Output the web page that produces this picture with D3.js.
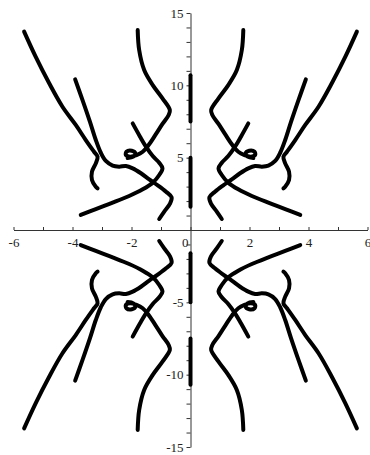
<!DOCTYPE html>
<html>
<head>
<meta charset="utf-8">
<script src="https://cdn.jsdelivr.net/npm/d3@7"></script>
<style>
  html, body { margin: 0; padding: 0; background: #fff; }
  svg { display: block; }
</style>
</head>
<body>
<svg id="chart" width="370" height="455"></svg>
<script>
// Branches of the implicit curve in the quadrant x > 0, y > 0 ([x, y] pairs).
// The curve is symmetric in both axes, so each branch is drawn in all four quadrants.
const outerBranch = [
  [5.64, 13.71], [5.25, 11.98], [4.79, 10.14], [4.34, 8.52], [3.89, 7.26],
  [3.55, 6.22], [3.27, 5.41], [3.15, 5.07], [3.21, 4.61], [3.34, 4.03],
  [3.34, 3.46], [3.21, 2.99], [3.15, 2.88]
];
const middleBranch = [
  [3.91, 10.41], [3.66, 8.98], [3.41, 7.49], [3.21, 6.22], [3.04, 5.34],
  [2.87, 4.77], [2.64, 4.45], [2.42, 4.38], [2.19, 4.42], [1.96, 4.26],
  [1.68, 3.92], [1.40, 3.50], [1.11, 3.09], [0.83, 2.65], [0.64, 2.26],
  [0.70, 1.80], [0.89, 1.27], [1.06, 0.76]
];
const lowerBranch = [
  [3.72, 1.04], [3.21, 1.45], [2.64, 1.89], [2.08, 2.35], [1.62, 2.81],
  [1.28, 3.27], [1.06, 3.80], [0.95, 4.26], [1.06, 4.65], [1.28, 5.11],
  [1.51, 5.76], [1.71, 6.45], [1.96, 7.37]
];
const innerBranch = [
  [1.79, 13.82], [1.74, 12.44], [1.57, 11.06], [1.28, 10.02], [0.95, 9.10],
  [0.70, 8.29], [0.74, 7.95], [0.95, 7.33], [1.19, 6.57], [1.42, 5.87],
  [1.62, 5.41], [1.83, 5.18], [2.05, 5.07], [2.19, 5.18], [2.17, 5.41],
  [1.99, 5.48], [1.87, 5.30], [1.94, 5.07], [2.13, 4.98]
];
// Pieces of the curve lying on the y-axis (y-intervals at x = 0, upper half)
const axisPieces = [[1.6, 5.0], [7.5, 10.7]];

const quadrantSigns = [[1, 1], [-1, 1], [-1, -1], [1, -1]];

const xTickValues = d3.range(-6, 7, 1);
const xTickLabels = [-6, -4, -2, 0, 2, 4, 6];
const yTickValues = d3.range(-15, 16, 1);
const yTickLabels = [-15, -10, -5, 5, 10, 15];

const svg = d3.select("#chart");
const x = d3.scaleLinear().domain([-6, 6]).range([13.5, 367.5]);
const y = d3.scaleLinear().domain([-15, 15]).range([447, 13]);

const fmt = v => (v < 0 ? "-" + Math.abs(v) : String(v));
const labelFont = '"Liberation Serif", "Times New Roman", serif';
const styleLabels = sel => sel
  .style("font-family", labelFont).style("font-size", "13px").attr("fill", "#222");

// x-axis along y = 0, ticks pointing up
const xAxis = d3.axisBottom(x)
  .tickValues(xTickValues)
  .tickSizeInner(-3)
  .tickSizeOuter(0)
  .tickPadding(7)
  .tickFormat(v => (xTickLabels.includes(v) && v !== 0 ? fmt(v) : ""));
const gx = svg.append("g").attr("transform", `translate(0,${y(0)})`).call(xAxis);
gx.select(".domain").attr("stroke", "#333");
gx.selectAll(".tick line").attr("stroke", "#333");
styleLabels(gx.selectAll(".tick text")).attr("dy", "0.75em");
// the 0 label sits just left of the y-axis
styleLabels(svg.append("text"))
  .attr("x", x(0) - 2).attr("y", y(0) + 7).attr("dy", "0.75em")
  .attr("text-anchor", "end")
  .text("0");

// y-axis along x = 0, ticks pointing left
const yAxis = d3.axisLeft(y)
  .tickValues(yTickValues)
  .tickSizeInner(4)
  .tickSizeOuter(0)
  .tickPadding(3)
  .tickFormat(v => (yTickLabels.includes(v) ? fmt(v) : ""));
const gy = svg.append("g").attr("transform", `translate(${x(0)},0)`).call(yAxis);
gy.select(".domain").attr("stroke", "#333");
gy.selectAll(".tick line").attr("stroke", "#333");
styleLabels(gy.selectAll(".tick text"));

// curve branches
const line = d3.line().x(d => x(d[0])).y(d => y(d[1])).curve(d3.curveCatmullRom.alpha(0.5));
const branches = [outerBranch, middleBranch, lowerBranch, innerBranch];
const curves = svg.append("g")
  .attr("fill", "none").attr("stroke", "#000").attr("stroke-width", 4)
  .attr("stroke-linecap", "round").attr("stroke-linejoin", "round");
quadrantSigns.forEach(([sx, sy]) => {
  branches.forEach(b => {
    curves.append("path").attr("d", line(b.map(([px, py]) => [sx * px, sy * py])));
  });
});
[1, -1].forEach(sy => {
  axisPieces.forEach(([a, b]) => {
    curves.append("path").attr("d", line([[0, sy * a], [0, sy * b]]));
  });
});
</script>
</body>
</html>
